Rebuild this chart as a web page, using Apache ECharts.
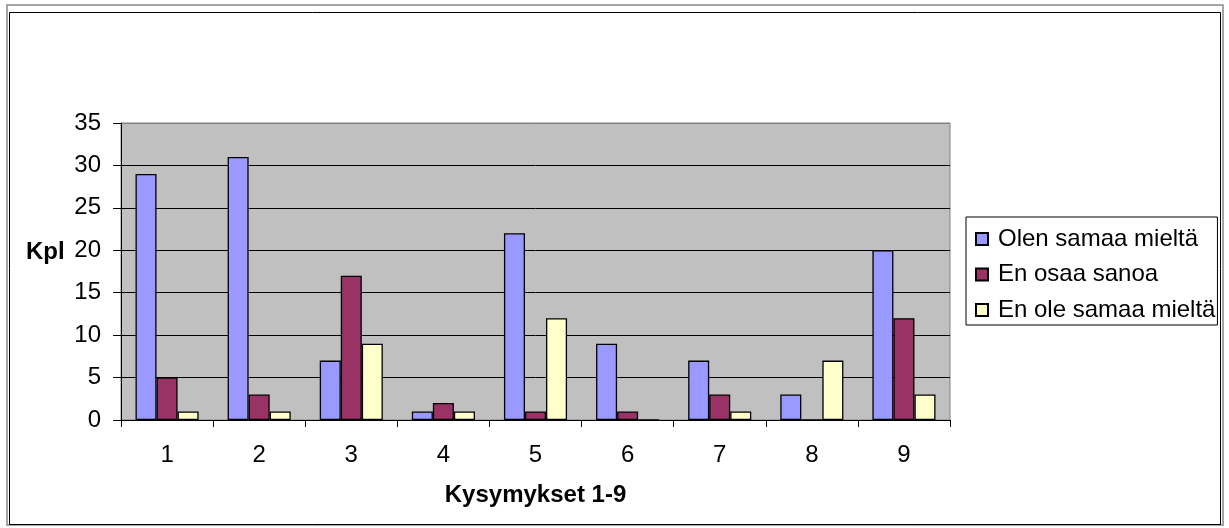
<!DOCTYPE html>
<html>
<head>
<meta charset="utf-8">
<title>Kysymykset 1-9</title>
<script src="https://cdn.jsdelivr.net/npm/echarts@6/dist/echarts.min.js"></script>
<style>
  html, body { margin: 0; padding: 0; background: #fff; }
  #chart { width: 1229px; height: 528px; }
</style>
</head>
<body>
<div id="chart"></div>
<script>
// data
const questions = ['1', '2', '3', '4', '5', '6', '7', '8', '9'];
const seriesNames = ['Olen samaa mieltä', 'En osaa sanoa', 'En ole samaa mieltä'];
const agree    = [29, 31, 7, 1, 22, 9, 7, 3, 20];
const dontKnow = [5, 3, 17, 2, 1, 1, 3, 0, 12];
const disagree = [1, 1, 9, 1, 12, 0, 1, 7, 3];
const colors = ['#9999ff', '#993366', '#ffffcc'];

const font = 'Arial, "Liberation Sans", sans-serif';

let myChart = echarts.init(document.getElementById('chart'));

function bar(name, data, color) {
  return {
    name: name,
    type: 'bar',
    data: data,
    barGap: '0%',
    barCategoryGap: '31.5%',
    itemStyle: { color: color, borderColor: '#000', borderWidth: 1.3 },
    emphasis: { disabled: true }
  };
}

myChart.setOption({
  animation: false,
  backgroundColor: '#fff',
  textStyle: { fontFamily: font },
  grid: {
    left: 121, right: 279, top: 123, bottom: 108,
    show: true, backgroundColor: '#c0c0c0', borderColor: '#808080', borderWidth: 1
  },
  legend: {
    orient: 'vertical',
    left: 966, top: 217,
    padding: [10, 2, 3, 9],
    itemGap: 11.5,
    itemWidth: 12, itemHeight: 12,
    icon: 'rect',
    borderColor: '#000', borderWidth: 1,
    textStyle: { fontSize: 24, color: '#000', fontFamily: font, padding: [0, 0, 0, 5] },
    data: seriesNames
  },
  xAxis: {
    type: 'category',
    data: questions,
    name: 'Kysymykset 1-9',
    nameLocation: 'middle',
    nameGap: 63,
    nameTextStyle: { fontSize: 24, fontWeight: 'bold', color: '#000', fontFamily: font },
    axisLine: { show: true, lineStyle: { color: '#000', width: 1 } },
    axisTick: { show: true, length: 7, lineStyle: { color: '#000' } },
    axisLabel: { fontSize: 24, color: '#000', margin: 23, fontFamily: font },
    splitLine: { show: false }
  },
  yAxis: {
    type: 'value',
    min: 0, max: 35, interval: 5,
    axisLine: { show: true, lineStyle: { color: '#000', width: 1 } },
    axisTick: { show: true, length: 8, lineStyle: { color: '#000' } },
    axisLabel: { fontSize: 24, color: '#000', margin: 20, fontFamily: font },
    splitLine: {
      show: true,
      lineStyle: { color: ['#000', '#000', '#000', '#000', '#000', '#000', '#000', '#808080'], width: 1 }
    }
  },
  graphic: [
    { type: 'rect', shape: { x: 7, y: 5, width: 1216, height: 520 },
      style: { fill: 'none', stroke: '#888', lineWidth: 1.5 }, silent: true },
    { type: 'rect', shape: { x: 9.5, y: 12.5, width: 1211, height: 512 },
      style: { fill: 'none', stroke: '#000', lineWidth: 1 }, silent: true },
    { type: 'text', left: 26, top: 240,
      style: { text: 'Kpl', font: 'bold 24px ' + font, fill: '#000' }, silent: true }
  ],
  series: [
    bar(seriesNames[0], agree, colors[0]),
    bar(seriesNames[1], dontKnow, colors[1]),
    bar(seriesNames[2], disagree, colors[2])
  ]
});
</script>
</body>
</html>
